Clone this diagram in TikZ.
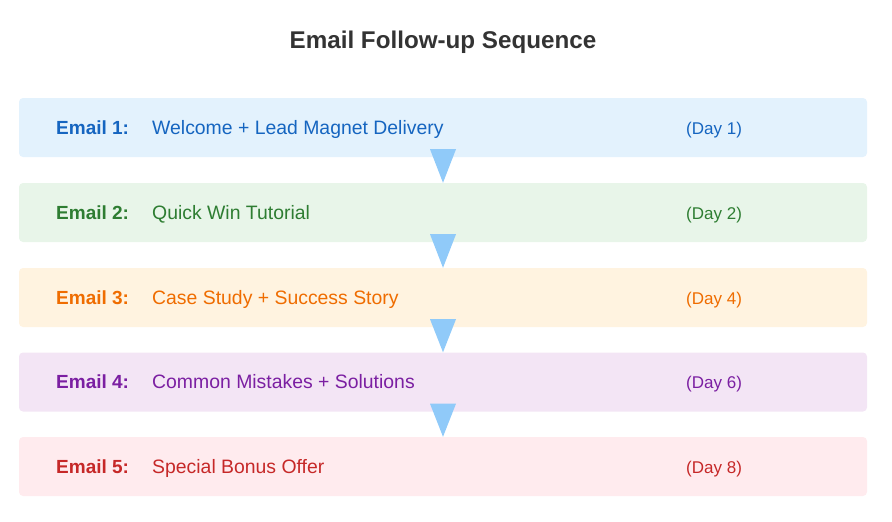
\documentclass[tikz,border=0pt]{standalone}
\usepackage{fontspec}
\setmainfont{Liberation Sans}
\usetikzlibrary{positioning,calc}

\definecolor{blueFill}{HTML}{E3F2FD}\definecolor{blueText}{HTML}{1565C0}
\definecolor{greenFill}{HTML}{E8F5E9}\definecolor{greenText}{HTML}{2E7D32}
\definecolor{orangeFill}{HTML}{FFF3E0}\definecolor{orangeText}{HTML}{EF6C00}
\definecolor{purpleFill}{HTML}{F3E5F5}\definecolor{purpleText}{HTML}{7B1FA2}
\definecolor{redFill}{HTML}{FFEBEE}\definecolor{redText}{HTML}{C62828}
\definecolor{flowBlue}{HTML}{90CAF9}
\definecolor{titleGray}{HTML}{333333}

\begin{document}
\begin{tikzpicture}[x=1pt,y=1pt,
  emailbox/.style={rounded corners=4pt,minimum width=848pt,minimum height=59pt,inner sep=0pt},
  emaillbl/.style={anchor=base west,inner sep=0pt,font=\fontsize{19}{22}\selectfont\bfseries},
  emailtxt/.style={anchor=base west,inner sep=0pt,font=\fontsize{19.4}{22}\selectfont},
  emailday/.style={anchor=base west,inner sep=0pt,font=\fontsize{17}{20}\selectfont},
  flow/.style={fill=flowBlue}]
\useasboundingbox (0,0) rectangle (892,-522);
\node[anchor=base,inner sep=0pt,text=titleGray,font=\fontsize{24.2}{28}\selectfont\bfseries] (title) at (443,-48.5) {Email Follow-up Sequence};
% the five emails
\node[emailbox,fill=blueFill] (email1) at (443,-127.5) {};
\node[emailbox,fill=greenFill] (email2) at (443,-212.5) {};
\node[emailbox,fill=orangeFill] (email3) at (443,-297.5) {};
\node[emailbox,fill=purpleFill] (email4) at (443,-382) {};
\node[emailbox,fill=redFill] (email5) at (443,-466.5) {};
% arrows between them
\fill[flow] ([shift={(-13,8)}]email1.south) -- ([shift={(13,8)}]email1.south) -- (email2.north) -- cycle;
\fill[flow] ([shift={(-13,8)}]email2.south) -- ([shift={(13,8)}]email2.south) -- (email3.north) -- cycle;
\fill[flow] ([shift={(-13,8)}]email3.south) -- ([shift={(13,8)}]email3.south) -- (email4.north) -- cycle;
\fill[flow] ([shift={(-13,8)}]email4.south) -- ([shift={(13,8)}]email4.south) -- (email5.north) -- cycle;
% labels
\node[emaillbl,text=blueText] (lbl1) at (56,-134) {Email 1:};
\node[emailtxt,text=blueText] (txt1) at (152,-134) {Welcome + Lead Magnet Delivery};
\node[emailday,text=blueText] (day1) at (686,-134) {(Day 1)};
\node[emaillbl,text=greenText] (lbl2) at (56,-219) {Email 2:};
\node[emailtxt,text=greenText] (txt2) at (152,-219) {Quick Win Tutorial};
\node[emailday,text=greenText] (day2) at (686,-219) {(Day 2)};
\node[emaillbl,text=orangeText] (lbl3) at (56,-304) {Email 3:};
\node[emailtxt,text=orangeText] (txt3) at (152,-304) {Case Study + Success Story};
\node[emailday,text=orangeText] (day3) at (686,-304) {(Day 4)};
\node[emaillbl,text=purpleText] (lbl4) at (56,-388.5) {Email 4:};
\node[emailtxt,text=purpleText] (txt4) at (152,-388.5) {Common Mistakes + Solutions};
\node[emailday,text=purpleText] (day4) at (686,-388.5) {(Day 6)};
\node[emaillbl,text=redText] (lbl5) at (56,-473) {Email 5:};
\node[emailtxt,text=redText] (txt5) at (152,-473) {Special Bonus Offer};
\node[emailday,text=redText] (day5) at (686,-473) {(Day 8)};
\end{tikzpicture}
\end{document}
